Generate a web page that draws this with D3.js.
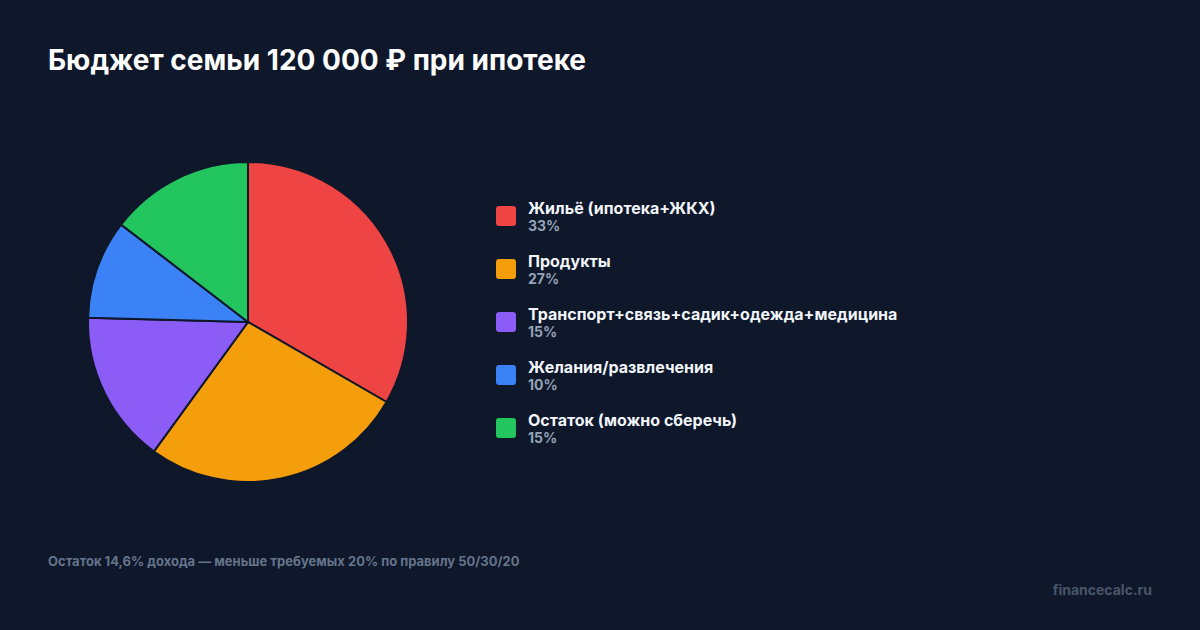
<!DOCTYPE html>
<html>
<head>
<meta charset="utf-8">
<script src="https://cdn.jsdelivr.net/npm/d3@7"></script>
<style>
  body { margin: 0; background: #0f172a; }
  svg { display: block; font-family: Inter, "Noto Sans", sans-serif; }
</style>
</head>
<body>
<div class="canvas"></div>
<script>
// data
var categories = ["Жильё (ипотека+ЖКХ)", "Продукты", "Транспорт+связь+садик+одежда+медицина", "Желания/развлечения", "Остаток (можно сберечь)"];
var amounts = [40000, 32000, 18500, 12000, 17500];
var colors = ["#ef4444", "#f59e0b", "#8b5cf6", "#3b82f6", "#22c55e"];

var width = 1200, height = 630;
var pie_box = { 'cx': 248, 'cy': 322, 'r': 160 };
var legend = { 'x': 496, 'y': 206, 'step': 53, 'size': 20 };

var svg = d3.select(".canvas").append("svg").attr("width", width).attr("height", height);

svg.append("rect")
    .attr("width", width)
    .attr("height", height)
    .attr("fill", "#0f172a");

svg.append("text")
    .attr("x", 48)
    .attr("y", 70)
    .text("Бюджет семьи 120 000 ₽ при ипотеке")
    .attr("fill", "#ffffff")
    .attr("font-size", "28px")
    .attr("font-weight", 700);

var total = d3.sum(amounts);
var slices = d3.pie().sort(null).value(d => d)(amounts);
var arc = d3.arc().innerRadius(0).outerRadius(pie_box.r);

var graph = svg.append("g").attr("transform", "translate(" + pie_box.cx + "," + pie_box.cy + ")");

graph.selectAll("path")
    .data(slices)
    .join("path")
    .attr("d", arc)
    .attr("fill", (d, i) => colors[i])
    .attr("stroke", "#0f172a")
    .attr("stroke-width", 2);

// legend
var rows = svg.selectAll("g.row")
    .data(categories)
    .join("g")
    .attr("class", "row")
    .attr("transform", (d, i) => "translate(" + legend.x + "," + (legend.y + i * legend.step) + ")");

rows.append("rect")
    .attr("width", legend.size)
    .attr("height", legend.size)
    .attr("rx", 3)
    .attr("fill", (d, i) => colors[i]);

rows.append("text")
    .attr("x", 32)
    .attr("y", 8)
    .text(d => d)
    .attr("fill", "#f1f5f9")
    .attr("font-size", "16px")
    .attr("font-weight", 700);

rows.append("text")
    .attr("x", 32)
    .attr("y", 25)
    .text((d, i) => Math.round(amounts[i] / total * 100) + "%")
    .attr("fill", "#94a3b8")
    .attr("font-size", "14px")
    .attr("font-weight", 700);

var rest = (amounts[4] / total * 100).toFixed(1).replace(".", ",");

svg.append("text")
    .attr("x", 48)
    .attr("y", 566)
    .text("Остаток " + rest + "% дохода — меньше требуемых 20% по правилу 50/30/20")
    .attr("fill", "#64748b")
    .attr("font-size", "13px")
    .attr("font-weight", 700);

svg.append("text")
    .attr("x", 1152)
    .attr("y", 595)
    .attr("text-anchor", "end")
    .text("financecalc.ru")
    .attr("fill", "#475569")
    .attr("font-size", "14px")
    .attr("font-weight", 700);
</script>
</body>
</html>
